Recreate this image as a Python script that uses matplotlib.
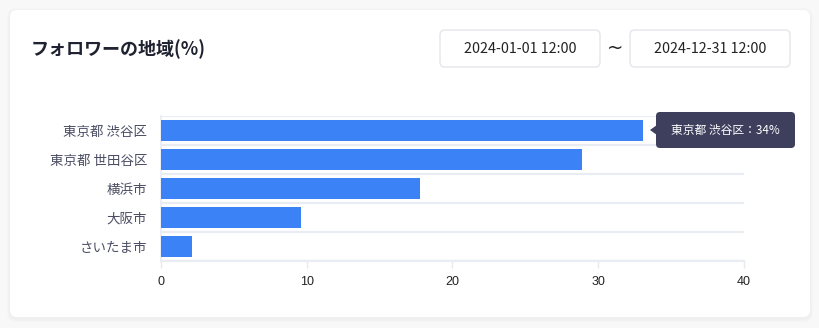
import matplotlib
matplotlib.use('Agg')
import matplotlib.pyplot as plt
from matplotlib.patches import FancyBboxPatch, Polygon

plt.rcParams['font.family'] = ['Noto Sans CJK JP', 'DejaVu Sans']

# data
regions = ['東京都 渋谷区', '東京都 世田谷区', '横浜市', '大阪市', 'さいたま市']
share = [33.1, 28.9, 17.8, 9.6, 2.1]
x_ticks = [0, 10, 20, 30, 40]
title = 'フォロワーの地域(%)'
date_from = '2024-01-01 12:00'
date_to = '2024-12-31 12:00'
tooltip = '東京都 渋谷区：34%'

W, H = 820, 328
fig = plt.figure(figsize=(W / 100, H / 100), dpi=100)
fig.patch.set_facecolor('#f8f8f9')

# full-figure overlay in pixel coords (y down)
bg = fig.add_axes([0, 0, 1, 1])
bg.set_xlim(0, W)
bg.set_ylim(H, 0)
bg.axis('off')

# card with soft shadow
for i, a in enumerate([0.012, 0.012, 0.012]):
    bg.add_patch(FancyBboxPatch((10 - 3 + i, 10 - 2 + i), 800 + 6 - 2 * i, 308 + 6 - 2 * i,
                                boxstyle='round,pad=0,rounding_size=9',
                                fc='black', ec='none', alpha=a))
bg.add_patch(FancyBboxPatch((10, 10), 800, 307, boxstyle='round,pad=0,rounding_size=7',
                            fc='white', ec='none'))

bg.text(31, 49, title, fontsize=13, fontweight='bold', color='#1f2230', va='center', ha='left')

# date boxes
for x0, txt in [(440, date_from), (630, date_to)]:
    bg.add_patch(FancyBboxPatch((x0, 30), 160, 37, boxstyle='round,pad=0,rounding_size=5',
                                fc='white', ec='#e3e6ec', lw=1))
    bg.text(x0 + 80, 49, txt, fontsize=10.3, color='#222', ha='center', va='center')
bg.text(615, 48, '~', fontsize=14, color='#222', ha='center', va='center',
        family=['DejaVu Sans'])

# chart
L, R, T, B = 161, 744, 116, 261
ax = fig.add_axes([L / W, 1 - B / H, (R - L) / W, (B - T) / H])
ypos = list(range(len(regions)))
ax.barh(ypos, share, height=0.69, color='#3b82f6', zorder=3)
ax.set_xlim(0, 40)
ax.set_ylim(len(regions) - 0.5, -0.5)
ax.set_yticks(ypos)
ax.set_yticklabels(regions, fontsize=9.7, color='#4a4d63')
ax.set_xticks(x_ticks)
ax.set_xticklabels([str(t) for t in x_ticks], fontsize=9, color='#222',
                   family=['Liberation Sans'])
ax.set_yticks([i + 0.5 for i in range(-1, len(regions))], minor=True)
ax.grid(True, which='minor', axis='y', color='#e9edf3', lw=1.6, zorder=0)
ax.tick_params(axis='y', which='both', length=0, pad=10)
ax.tick_params(axis='x', length=5, width=1, color='#e6e9ef', pad=6)
for s in ['top', 'right']:
    ax.spines[s].set_visible(False)
ax.spines['left'].set_color('#e9edf3')
ax.spines['left'].set_linewidth(1.3)
ax.spines['bottom'].set_color('#e9edf3')
ax.spines['bottom'].set_linewidth(1.6)
ax.set_facecolor('none')

# tooltip on top of everything
top = fig.add_axes([0, 0, 1, 1])
top.set_xlim(0, W)
top.set_ylim(H, 0)
top.axis('off')
top.add_patch(FancyBboxPatch((656, 112), 139, 36, boxstyle='round,pad=0,rounding_size=4',
                             fc='#3d3f5d', ec='none'))
top.add_patch(Polygon([[650, 130], [657, 125], [657, 135]], closed=True,
                      fc='#3d3f5d', ec='none'))
top.text(725, 130, tooltip, fontsize=8.5, color='white', ha='center', va='center')

fig.savefig('out.png', dpi=100)
